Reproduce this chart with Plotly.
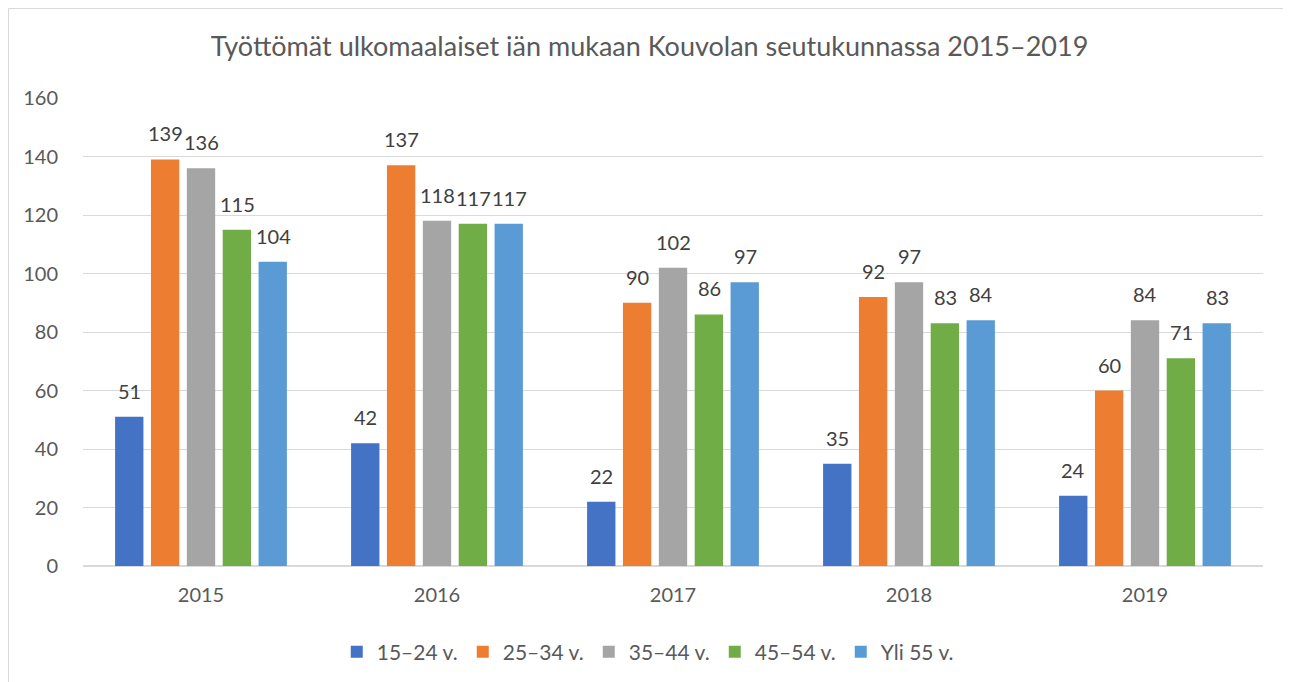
import plotly.graph_objects as go

years = ["2015", "2016", "2017", "2018", "2019"]
series_names = ["15–24 v.", "25–34 v.", "35–44 v.", "45–54 v.", "Yli 55 v."]
v_15_24 = [51, 42, 22, 35, 24]
v_25_34 = [139, 137, 90, 92, 60]
v_35_44 = [136, 118, 102, 97, 84]
v_45_54 = [115, 117, 86, 83, 71]
v_55 = [104, 117, 97, 84, 83]
y_ticks = [0, 20, 40, 60, 80, 100, 120, 140, 160]

all_values = [v_15_24, v_25_34, v_35_44, v_45_54, v_55]
colors = ["#4472C4", "#ED7D31", "#A5A5A5", "#70AD47", "#5B9BD5"]

FONT = "Lato, 'Open Sans', sans-serif"
W, H = 1283, 674
L, R, T, B = 75, 28, 90, 116
PW, PH = W - L - R, H - T - B

fig = go.Figure()
for name, vals, col in zip(series_names, all_values, colors):
    fig.add_trace(go.Bar(x=years, y=vals, name=name, marker=dict(color=col, line=dict(width=0))))

# data labels as annotations above each bar (x given as category index)
slot_px = 36
for i, vals in enumerate(all_values):
    for j, v in enumerate(vals):
        fig.add_annotation(x=j, y=v, text=str(v), showarrow=False,
                           xshift=(i - 2) * slot_px, yshift=12, yanchor="bottom",
                           font=dict(family=FONT, size=20, color="#404040"))

fig.add_shape(type="rect", xref="paper", yref="paper",
              x0=(0.5 - L) / PW, x1=(W + 10 - L) / PW,
              y0=-(B + 10) / PH, y1=(PH + T - 0.5) / PH,
              line=dict(color="#d9d9d9", width=1), fillcolor="rgba(0,0,0,0)", layer="below")

fig.update_layout(
    width=W, height=H,
    margin=dict(l=L, r=R, t=T, b=B, autoexpand=False),
    paper_bgcolor="white", plot_bgcolor="white",
    barmode="group", bargap=0.24, bargroupgap=0.21,
    title=dict(text="Työttömät ulkomaalaiset iän mukaan Kouvolan seutukunnassa 2015–2019",
               x=0.5, xanchor="center", xref="container", y=1 - 39 / H, yref="container",
               yanchor="middle", font=dict(family=FONT, size=27, color="#595959")),
    font=dict(family=FONT, size=18, color="#595959"),
    showlegend=True,
    legend=dict(orientation="h", x=0.482, xanchor="center", y=-0.184, yanchor="middle",
                font=dict(family=FONT, size=21, color="#595959"), itemwidth=30,
                entrywidth=81, entrywidthmode="pixels",
                traceorder="normal"),
    xaxis=dict(type="category", range=[-0.5, 4.5], showgrid=False, showline=True,
               linecolor="#d9d9d9", linewidth=1,
               ticks="", tickfont=dict(family=FONT, size=20, color="#595959"),
               ticklabelstandoff=11),
    yaxis=dict(range=[0, 160], tickvals=y_ticks, showgrid=True, gridcolor="#d9d9d9",
               gridwidth=1, zeroline=True, zerolinecolor="#d9d9d9", showline=False,
               ticks="", tickfont=dict(family=FONT, size=20, color="#595959"),
               ticklabelstandoff=24),
)

fig.write_html("out.html")
